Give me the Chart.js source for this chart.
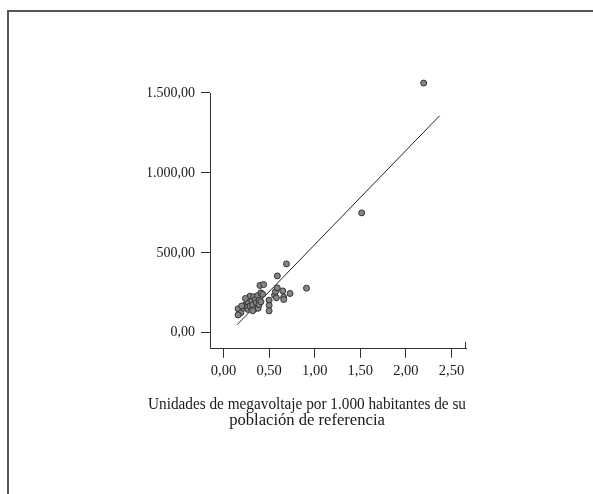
<!DOCTYPE html>
<html>
<head>
<meta charset="utf-8">
<script src="https://cdn.jsdelivr.net/npm/chart.js@4"></script>
<style>
    body { margin: 0; background: #fff; }
    #wrap { position: relative; width: 593px; height: 494px; }
    #frame { position: absolute; left: 7px; top: 10px; right: 0; bottom: 0; border-top: 2px solid #555; border-left: 2px solid #555; }
    canvas { position: absolute; left: 0; top: 0; }
</style>
</head>
<body>
<div id="wrap">
    <div id="frame"></div>
    <canvas id="chart" width="593" height="494"></canvas>
</div>
<script>
// Datos
var xValues = [0.16, 0.19, 0.16, 0.22, 0.23, 0.25, 0.27, 0.26, 0.27, 0.29, 0.29, 0.31, 0.31, 0.32, 0.33,
    0.35, 0.35, 0.36, 0.375, 0.38, 0.39, 0.39, 0.41, 0.41, 0.43, 0.40, 0.44, 0.50, 0.50, 0.50,
    0.56, 0.57, 0.58, 0.59, 0.59, 0.65, 0.66, 0.66, 0.69, 0.73, 0.91, 1.515, 2.195, 0.24, 0.20, 0.32]
var yValues = [150, 125, 112, 154, 171, 177, 191, 160, 146, 166, 229, 200, 146, 175, 225,
    208, 152, 188, 233, 154, 204, 177, 194, 250, 241, 296, 302, 204, 171, 137,
    235, 258, 219, 281, 356, 262, 223, 208, 431, 246, 279, 750, 1562, 215, 168, 138]
var fitX = [0.15, 2.37]
var fitY = [51, 1358]
var xTicks = [0, 0.5, 1, 1.5, 2, 2.5]
var yTicks = [0, 500, 1000, 1500]
var xTitle = ['Unidades de megavoltaje por 1.000 habitantes de su', 'población de referencia']

var fontFamily = "'Liberation Serif', 'Times New Roman', serif"

function fmt(v) {
    var parts = v.toFixed(2).split('.')
    return parts[0].replace(/\B(?=(\d{3})+(?!\d))/g, '.') + ',' + parts[1]
}

function toPoints(xs, ys) {
    return xs.map(function (x, i) { return { x: x, y: ys[i] } })
}

// eje Y sólo hasta el último tick, y pequeño trazo hacia arriba al final del eje X
var axisLines = {
    id: 'axisLines',
    afterDraw: function (chart) {
        var a = chart.chartArea, ctx = chart.ctx
        var yTop = chart.scales.y.getPixelForValue(yTicks[yTicks.length - 1])
        ctx.save()
        ctx.strokeStyle = '#333'
        ctx.lineWidth = 1
        ctx.beginPath()
        ctx.moveTo(a.left + 0.5, yTop)
        ctx.lineTo(a.left + 0.5, a.bottom)
        ctx.moveTo(a.right - 0.5, a.bottom)
        ctx.lineTo(a.right - 0.5, a.bottom - 7)
        ctx.stroke()
        ctx.restore()
    }
}

var ctx = document.getElementById('chart').getContext('2d')
new Chart(ctx, {
    type: 'scatter',
    data: {
        datasets: [{
            data: toPoints(xValues, yValues),
            backgroundColor: '#858585',
            borderColor: '#333',
            borderWidth: 1,
            pointRadius: 3
        }, {
            type: 'line',
            data: toPoints(fitX, fitY),
            borderColor: '#222',
            borderWidth: 1,
            pointRadius: 0,
            fill: false
        }]
    },
    options: {
        responsive: false,
        animation: false,
        events: [],
        layout: { padding: { top: 77, left: 148, right: 127, bottom: 65 } },
        plugins: {
            legend: { display: false },
            tooltip: { enabled: false },
            title: {
                display: true,
                position: 'bottom',
                text: xTitle,
                color: '#1a1a1a',
                font: { family: fontFamily, size: 16.6, weight: 'normal', lineHeight: 0.97 },
                padding: 0
            }
        },
        scales: {
            x: {
                type: 'linear',
                min: -0.148,
                max: 2.659,
                afterBuildTicks: function (axis) { axis.ticks = xTicks.map(function (v) { return { value: v } }) },
                afterFit: function (axis) { axis.height = 48 },
                ticks: {
                    color: '#1a1a1a',
                    padding: 5,
                    maxRotation: 0,
                    font: { family: fontFamily, size: 14.5 },
                    callback: function (v) { return fmt(v) }
                },
                grid: { drawOnChartArea: false, tickLength: 9, color: '#333', lineWidth: 1 },
                border: { display: true, color: '#333', width: 1 }
            },
            y: {
                type: 'linear',
                min: -100,
                max: 1600,
                afterBuildTicks: function (axis) { axis.ticks = yTicks.map(function (v) { return { value: v } }) },
                afterFit: function (axis) { axis.width = 62 },
                ticks: {
                    color: '#1a1a1a',
                    padding: 6,
                    font: { family: fontFamily, size: 14 },
                    callback: function (v) { return fmt(v) }
                },
                grid: { drawOnChartArea: false, tickLength: 9, color: '#333', lineWidth: 1 },
                border: { display: false }
            }
        }
    },
    plugins: [axisLines]
})
</script>
</body>
</html>
